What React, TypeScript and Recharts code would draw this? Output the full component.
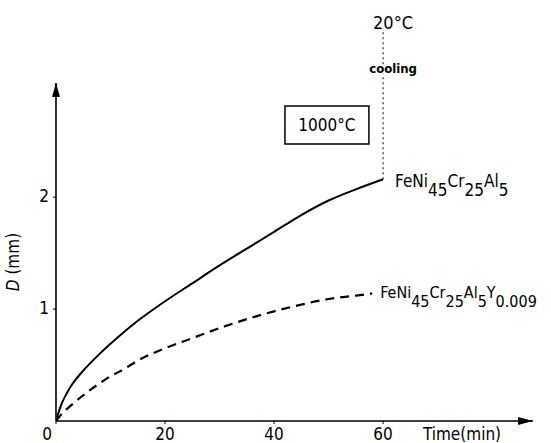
import React from 'react';
import {
  LineChart,
  Line,
  XAxis,
  YAxis,
  ReferenceDot,
  ReferenceLine,
  ReferenceArea,
} from 'recharts';

// time (min) and depth D (mm)
const plainTime = [0, 1, 2, 3, 5, 8, 10, 12, 15, 20, 25, 30, 35, 40, 45, 50, 55, 60];
const plainDepth = [0, 0.15, 0.25, 0.33, 0.45, 0.6, 0.69, 0.775, 0.895, 1.07, 1.23, 1.39, 1.54, 1.69, 1.84, 1.97, 2.07, 2.16];

const yttriumTime = [0, 1, 3, 5, 7.5, 10, 12, 15, 20, 25, 30, 35, 40, 45, 50, 55, 58];
const yttriumDepth = [0, 0.06, 0.15, 0.23, 0.32, 0.4, 0.45, 0.54, 0.65, 0.74, 0.83, 0.91, 0.98, 1.04, 1.09, 1.12, 1.14];

const xTicks = [0, 20, 40, 60];
const yTicks = [1, 2];
const xMax = 87.5;
const yMax = 3.02;

// formula labels as [text, isSubscript]
const plainName: [string, boolean][] = [['FeNi', false], ['45', true], ['Cr', false], ['25', true], ['Al', false], ['5', true]];
const yttriumName: [string, boolean][] = [
  ['FeNi', false], ['45', true], ['Cr', false], ['25', true], ['Al', false], ['5', true], ['Y', false], ['0.009', true],
];

// the box and the cooling marker
const boxRange = { x1: 42, x2: 57.4, y1: 2.475, y2: 2.815 };
const coolingTime = 60;
const coolingTop = 3.49;

const FONT = "'DejaVu Sans Condensed', 'Liberation Sans Narrow', 'DejaVu Sans', sans-serif";

const plainData = plainTime.map((t, i) => ({ t, d: plainDepth[i] }));
const yttriumData = yttriumTime.map((t, i) => ({ t, d: yttriumDepth[i] }));

const XTick = (props: any) => {
  const { x, y, payload } = props;
  return (
    <text x={x + (payload.value === 0 ? -9 : 0)} y={y + 16} textAnchor="middle" fontFamily={FONT} fontSize={17} fill="#000">
      {payload.value}
    </text>
  );
};

const YTick = (props: any) => {
  const { x, y, payload } = props;
  return (
    <text x={x - 4} y={y + 5} textAnchor="end" fontFamily={FONT} fontSize={17} fill="#000">
      {payload.value}
    </text>
  );
};

const formulaShape = (parts: [string, boolean][], dx: number, dy: number, size: number) => (p: any) => {
  const x = p.cx + dx;
  const y = p.cy + dy;
  return (
    <text x={x} y={y} fontFamily={FONT} fontSize={size} fill="#000">
      {parts.map(([s, sub], i) => (
        <tspan key={i} y={sub ? y + 9 : y}>{s}</tspan>
      ))}
    </text>
  );
};

const upArrow = (p: any) => (
  <polygon points={`${p.cx - 4},${p.cy + 14} ${p.cx},${p.cy} ${p.cx + 4},${p.cy + 14}`} fill="#000" />
);

const rightArrow = (p: any) => (
  <polygon points={`${p.cx - 15},${p.cy - 4} ${p.cx},${p.cy} ${p.cx - 15},${p.cy + 4}`} fill="#000" />
);

const coolingText = (p: any) => (
  <g fontFamily={FONT} fill="#000">
    <text x={p.cx + 10} y={p.cy - 1} textAnchor="middle" fontSize={18}>20°C</text>
    <text
      x={p.cx + 10}
      y={p.cy + 43}
      textAnchor="middle"
      fontSize={13}
      fontWeight="bold"
      stroke="#fff"
      strokeWidth={3}
      paintOrder="stroke"
    >
      cooling
    </text>
  </g>
);

const yLabel = (p: any) => (
  <text
    x={p.cx - 37}
    y={p.cy}
    transform={`rotate(-90 ${p.cx - 37} ${p.cy})`}
    textAnchor="middle"
    fontFamily={FONT}
    fontSize={17}
    fill="#000"
  >
    <tspan fontStyle="italic">D</tspan>
    <tspan>{' (mm)'}</tspan>
  </text>
);

export default function App() {
  return (
    <div style={{ position: 'absolute', left: 0, top: 0, width: 551, height: 443, background: '#fff' }}>
      <LineChart width={551} height={443} margin={{ top: 83, right: 18, bottom: 0, left: 0 }}>
        <XAxis
          type="number"
          dataKey="t"
          domain={[0, xMax]}
          ticks={xTicks}
          height={22}
          tickSize={3}
          tickMargin={0}
          tick={<XTick />}
          axisLine={{ stroke: '#000', strokeWidth: 1.6 }}
          tickLine={{ stroke: '#000' }}
          allowDataOverflow
        />
        <YAxis
          type="number"
          domain={[0, yMax]}
          ticks={yTicks}
          width={56}
          tickSize={3}
          tickMargin={0}
          tick={<YTick />}
          axisLine={{ stroke: '#000', strokeWidth: 1.6 }}
          tickLine={{ stroke: '#000' }}
          allowDataOverflow
        />
        <ReferenceArea
          {...boxRange}
          fill="#fff"
          fillOpacity={1}
          stroke="#000"
          strokeWidth={1.5}
          ifOverflow="visible"
          label={{ value: '1000°C', position: 'center', fontFamily: FONT, fontSize: 17, fill: '#000' }}
        />
        <ReferenceLine
          segment={[
            { x: coolingTime, y: plainDepth[plainDepth.length - 1] },
            { x: coolingTime, y: coolingTop },
          ]}
          stroke="#000"
          strokeWidth={1}
          strokeDasharray="2 3"
          ifOverflow="visible"
        />
        <Line
          data={plainData}
          dataKey="d"
          type="monotone"
          stroke="#000"
          strokeWidth={2}
          dot={false}
          isAnimationActive={false}
        />
        <Line
          data={yttriumData}
          dataKey="d"
          type="monotone"
          stroke="#000"
          strokeWidth={2.2}
          strokeDasharray="9 6"
          dot={false}
          isAnimationActive={false}
        />
        <ReferenceDot x={0} y={yMax} r={1} shape={upArrow} ifOverflow="visible" />
        <ReferenceDot x={xMax} y={0} r={1} shape={rightArrow} ifOverflow="visible" />
        <ReferenceDot x={coolingTime} y={coolingTop} r={1} shape={coolingText} ifOverflow="visible" />
        <ReferenceDot x={0} y={1.42} r={1} shape={yLabel} ifOverflow="visible" />
        <ReferenceDot
          x={plainTime[plainTime.length - 1]}
          y={plainDepth[plainDepth.length - 1]}
          r={1}
          shape={formulaShape(plainName, 12, 8, 17)}
          ifOverflow="visible"
        />
        <ReferenceDot
          x={yttriumTime[yttriumTime.length - 1]}
          y={yttriumDepth[yttriumDepth.length - 1]}
          r={1}
          shape={formulaShape(yttriumName, 8, 5, 16)}
          ifOverflow="visible"
        />
        <text x={462} y={440} textAnchor="middle" fontFamily={FONT} fontSize={17} fill="#000">
          Time(min)
        </text>
      </LineChart>
    </div>
  );
}
